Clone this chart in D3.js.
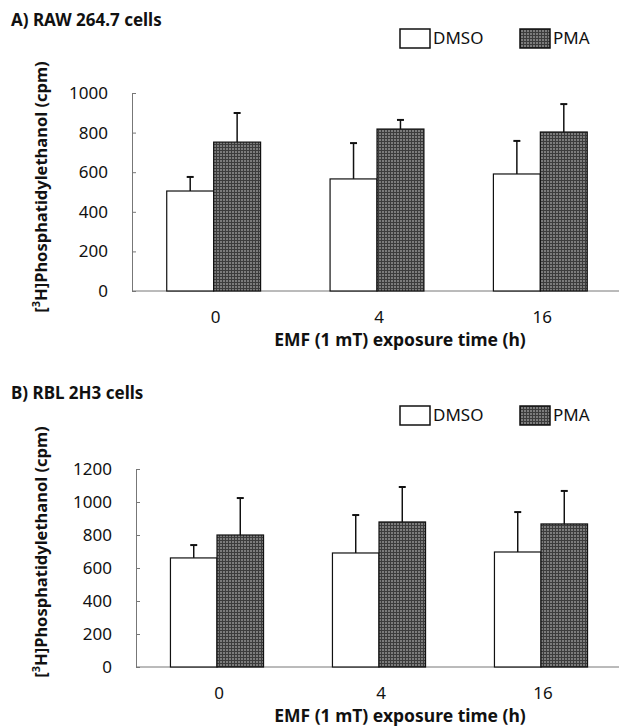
<!DOCTYPE html>
<html>
<head>
<meta charset="utf-8">
<script src="https://cdn.jsdelivr.net/npm/d3@7"></script>
<style>
  body { margin: 0; background: #fff; }
  text { font-family: "Noto Sans", "Open Sans", sans-serif; fill: #111; }
</style>
</head>
<body>
<svg id="chart"></svg>
<script>
var width = 619,
    height = 726;

// data
var groups = ["0", "4", "16"];
var seriesNames = ["DMSO", "PMA"];

var rawDmso = [505, 566, 591];
var rawDmsoErr = [71, 181, 167];
var rawPma = [752, 818, 803];
var rawPmaErr = [147, 46, 141];
var rawTicks = [0, 200, 400, 600, 800, 1000];

var rblDmso = [661, 691, 697];
var rblDmsoErr = [78, 230, 242];
var rblPma = [800, 879, 867];
var rblPmaErr = [224, 212, 200];
var rblTicks = [0, 200, 400, 600, 800, 1000, 1200];

var colors = {"DMSO": "#ffffff", "PMA": "#666666"};

var svg = d3.select("#chart")
  .attr("width", width)
  .attr("height", height);

// fine grid texture like the scanned dark bars
var defs = svg.append("defs");
var pat = defs.append("pattern")
  .attr("id", "grid")
  .attr("width", 3)
  .attr("height", 3)
  .attr("patternUnits", "userSpaceOnUse");
pat.append("rect").attr("width", 3).attr("height", 3).attr("fill", "#7c7c7c");
pat.append("path").attr("d", "M0,0.5H3M0.5,0V3").attr("stroke", "#3c3c3c").attr("stroke-width", 1);

function drawPanel(p) {
  var g = svg.append("g");

  var y = d3.scaleLinear()
    .domain([0, p.ticks[p.ticks.length - 1]])
    .range([p.bottom, p.top]);

  var x0 = d3.scaleBand()
    .domain(groups)
    .range([p.left, 622]);

  var x1 = d3.scaleBand()
    .domain(seriesNames)
    .range([0, x0.bandwidth()])
    .paddingInner(0)
    .paddingOuter(0.74);

  var rows = [];
  groups.forEach(function(grp, i) {
    rows.push({group: grp, series: "DMSO", value: p.dmso[i], err: p.dmsoErr[i]});
    rows.push({group: grp, series: "PMA", value: p.pma[i], err: p.pmaErr[i]});
  });

  // y axis, ticks pointing inward
  var yAxis = g.append("g")
    .attr("transform", "translate(" + p.left + ",0)")
    .call(d3.axisRight(y).tickValues(p.ticks).tickSize(4).tickFormat(""));
  yAxis.select(".domain").attr("stroke", "#777");
  yAxis.selectAll(".tick line").attr("stroke", "#777");

  g.selectAll(".ylab")
    .data(p.ticks)
    .enter().append("text")
    .attr("x", p.left - 24)
    .attr("y", function(d) { return y(d); })
    .attr("dy", "0.35em")
    .attr("text-anchor", "end")
    .style("font-size", "17px")
    .text(function(d) { return d; });

  // x axis baseline
  g.append("line")
    .attr("x1", p.left)
    .attr("x2", 619)
    .attr("y1", y(0))
    .attr("y2", y(0))
    .attr("stroke", "#777");

  // error bars (upper only)
  var eb = g.selectAll(".err")
    .data(rows)
    .enter().append("g");
  eb.append("line")
    .attr("x1", function(d) { return x0(d.group) + x1(d.series) + x1.bandwidth() / 2; })
    .attr("x2", function(d) { return x0(d.group) + x1(d.series) + x1.bandwidth() / 2; })
    .attr("y1", function(d) { return y(d.value); })
    .attr("y2", function(d) { return y(d.value + d.err); })
    .attr("stroke", "#111")
    .attr("stroke-width", 1.5);
  eb.append("line")
    .attr("x1", function(d) { return x0(d.group) + x1(d.series) + x1.bandwidth() / 2 - 3.5; })
    .attr("x2", function(d) { return x0(d.group) + x1(d.series) + x1.bandwidth() / 2 + 3.5; })
    .attr("y1", function(d) { return y(d.value + d.err); })
    .attr("y2", function(d) { return y(d.value + d.err); })
    .attr("stroke", "#111")
    .attr("stroke-width", 2);

  // bars
  g.selectAll(".bar")
    .data(rows)
    .enter().append("rect")
    .attr("x", function(d) { return x0(d.group) + x1(d.series); })
    .attr("y", function(d) { return y(d.value); })
    .attr("width", x1.bandwidth())
    .attr("height", function(d) { return y(0) - y(d.value); })
    .attr("fill", function(d) { return d.series == "PMA" ? "url(#grid)" : colors[d.series]; })
    .attr("stroke", "#111")
    .attr("stroke-width", 1.2);

  // x tick labels
  g.selectAll(".xlab")
    .data(groups)
    .enter().append("text")
    .attr("x", function(d) { return x0(d) + x0.bandwidth() / 2 + 2; })
    .attr("y", y(0) + 26)
    .attr("dy", "0.35em")
    .attr("text-anchor", "middle")
    .style("font-size", "17px")
    .text(function(d) { return d; });

  g.append("text")
    .attr("x", 400)
    .attr("y", y(0) + 49)
    .attr("dy", "0.35em")
    .attr("text-anchor", "middle")
    .style("font-size", "17.5px")
    .style("font-weight", "bold")
    .text("EMF (1 mT) exposure time (h)");

  // y title
  var yt = g.append("text")
    .attr("transform", "translate(41," + p.ytitleY + ") rotate(-90)")
    .attr("text-anchor", "middle")
    .attr("dy", "0.35em")
    .style("font-size", "16.5px")
    .style("font-weight", "bold");
  yt.append("tspan").text("[");
  yt.append("tspan").attr("baseline-shift", "super").style("font-size", "11px").text("3");
  yt.append("tspan").text("H]Phosphatidylethanol (cpm)");

  // panel title
  g.append("text")
    .attr("x", 11)
    .attr("y", p.titleY)
    .attr("dy", "0.35em")
    .style("font-size", "17px")
    .style("font-weight", "bold")
    .text(p.title);

  // legend
  var legend = g.selectAll(".legend")
    .data(seriesNames)
    .enter().append("g")
    .attr("transform", function(d, i) { return "translate(" + (400 + i * 120) + "," + p.legendY + ")"; });
  legend.append("rect")
    .attr("x", 0)
    .attr("y", -9)
    .attr("width", 30)
    .attr("height", 19)
    .attr("fill", function(d) { return d == "PMA" ? "url(#grid)" : colors[d]; })
    .attr("stroke", "#111")
    .attr("stroke-width", 1.5);
  legend.append("text")
    .attr("x", 33)
    .attr("y", 0)
    .attr("dy", "0.35em")
    .style("font-size", "17px")
    .text(function(d) { return d; });
}

drawPanel({title: "A)  RAW 264.7 cells", titleY: 20, legendY: 38,
  top: 93, bottom: 291, left: 132, ytitleY: 187,
  dmso: rawDmso, dmsoErr: rawDmsoErr, pma: rawPma, pmaErr: rawPmaErr, ticks: rawTicks});

drawPanel({title: "B)  RBL 2H3 cells", titleY: 393, legendY: 415,
  top: 469, bottom: 667, left: 136, ytitleY: 552,
  dmso: rblDmso, dmsoErr: rblDmsoErr, pma: rblPma, pmaErr: rblPmaErr, ticks: rblTicks});
</script>
</body>
</html>
